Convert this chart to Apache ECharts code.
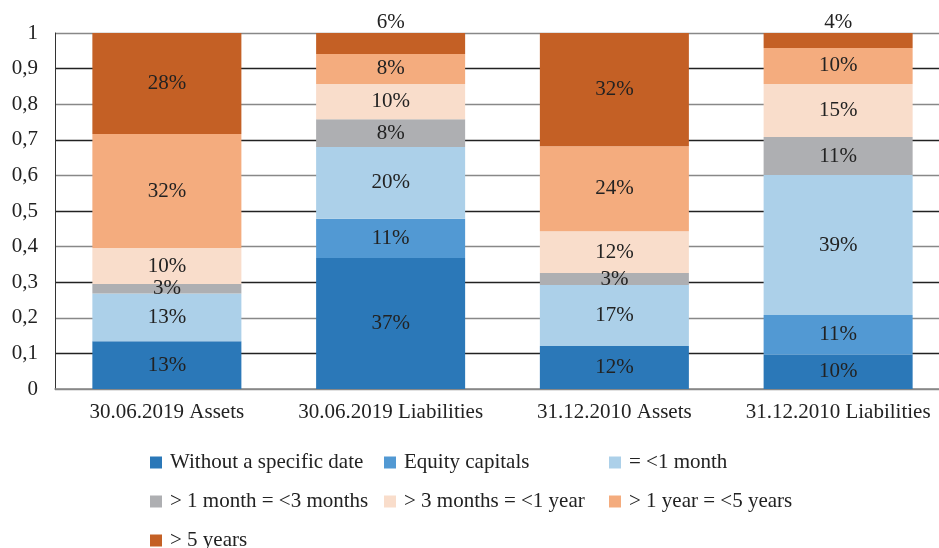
<!DOCTYPE html>
<html><head><meta charset="utf-8">
<script src="https://cdn.jsdelivr.net/npm/echarts@6/dist/echarts.min.js"></script>
<style>html,body{margin:0;padding:0;background:#fff;overflow:hidden}#c{width:950px;height:548px}</style>
</head><body><div id="c"></div>
<script>
var categories = ['30.06.2019 Assets', '30.06.2019 Liabilities', '31.12.2010 Assets', '31.12.2010 Liabilities'];
var seriesNames = ['Without a specific date', 'Equity capitals', '= <1 month', '> 1 month = <3 months', '> 3 months = <1 year', '> 1 year = <5 years', '> 5 years'];
var withoutDate = [0.134, 0.368, 0.121, 0.096];
var equity = [0, 0.110, 0, 0.112];
var lt1m = [0.134, 0.202, 0.171, 0.393];
var m1to3 = [0.027, 0.078, 0.034, 0.107];
var m3to1y = [0.101, 0.099, 0.117, 0.149];
var y1to5 = [0.320, 0.084, 0.239, 0.101];
var gt5y = [0.284, 0.059, 0.318, 0.042];
var yTicks = ['0', '0,1', '0,2', '0,3', '0,4', '0,5', '0,6', '0,7', '0,8', '0,9', '1'];
var colors = ['#2b78b8', '#5299d3', '#acd0e9', '#aeafb2', '#f9ddcb', '#f4ac7e', '#c46025'];

var allData = [withoutDate, equity, lt1m, m1to3, m3to1y, y1to5, gt5y];
var font = 'Liberation Serif';
var fs = 21;
var series = allData.map(function (arr, si) {
  return {
    name: seriesNames[si], type: 'bar', stack: 'total', barCategoryGap: '33.4%',
    itemStyle: { color: colors[si] },
    label: {
      show: true, position: 'inside', color: '#222', fontFamily: font, fontSize: fs,
      formatter: function (p) { return p.value > 0 ? Math.round(p.value * 100) + '%' : ''; }
    },
    data: arr.map(function (v, i) {
      if (si === 6 && v < 0.07) return { value: v, label: { position: 'top', distance: 0 } };
      return v;
    })
  };
});
// legend placement: [series index, left, row]
var legendPos = [[0, 150, 0], [1, 384, 0], [2, 609, 0], [3, 150, 1], [4, 384, 1], [5, 609, 1], [6, 150, 2]];
var rowTop = [452, 491, 530];
var legends = legendPos.map(function (p) {
  return {
    left: p[1], top: rowTop[p[2]], padding: 0,
    itemWidth: 12, itemHeight: 12, itemGap: 0, icon: 'rect', selectedMode: false,
    textStyle: { fontFamily: font, fontSize: fs, color: '#222', padding: [0, 0, 0, 3] },
    data: [seriesNames[p[0]]]
  };
});
var chart = echarts.init(document.getElementById('c'));
chart.setOption({
  animation: false,
  grid: { left: 55, right: 0, top: 33, height: 356 },
  legend: legends,
  xAxis: {
    type: 'category', data: categories,
    axisLine: { lineStyle: { color: '#888', width: 1.5 } },
    axisTick: { show: false },
    axisLabel: { fontFamily: font, fontSize: fs, color: '#222', margin: 13, interval: 0 }
  },
  yAxis: {
    type: 'value', min: 0, max: 1, interval: 0.1,
    axisLine: { show: true, lineStyle: { color: '#333' } },
    axisTick: { show: false },
    splitLine: { lineStyle: { color: ['#888', '#222'], width: 1.3 } },
    axisLabel: {
      fontFamily: font, fontSize: fs, color: '#222', margin: 17,
      formatter: function (v) { return yTicks[Math.round(v * 10)]; }
    }
  },
  series: series
});
</script></body></html>
